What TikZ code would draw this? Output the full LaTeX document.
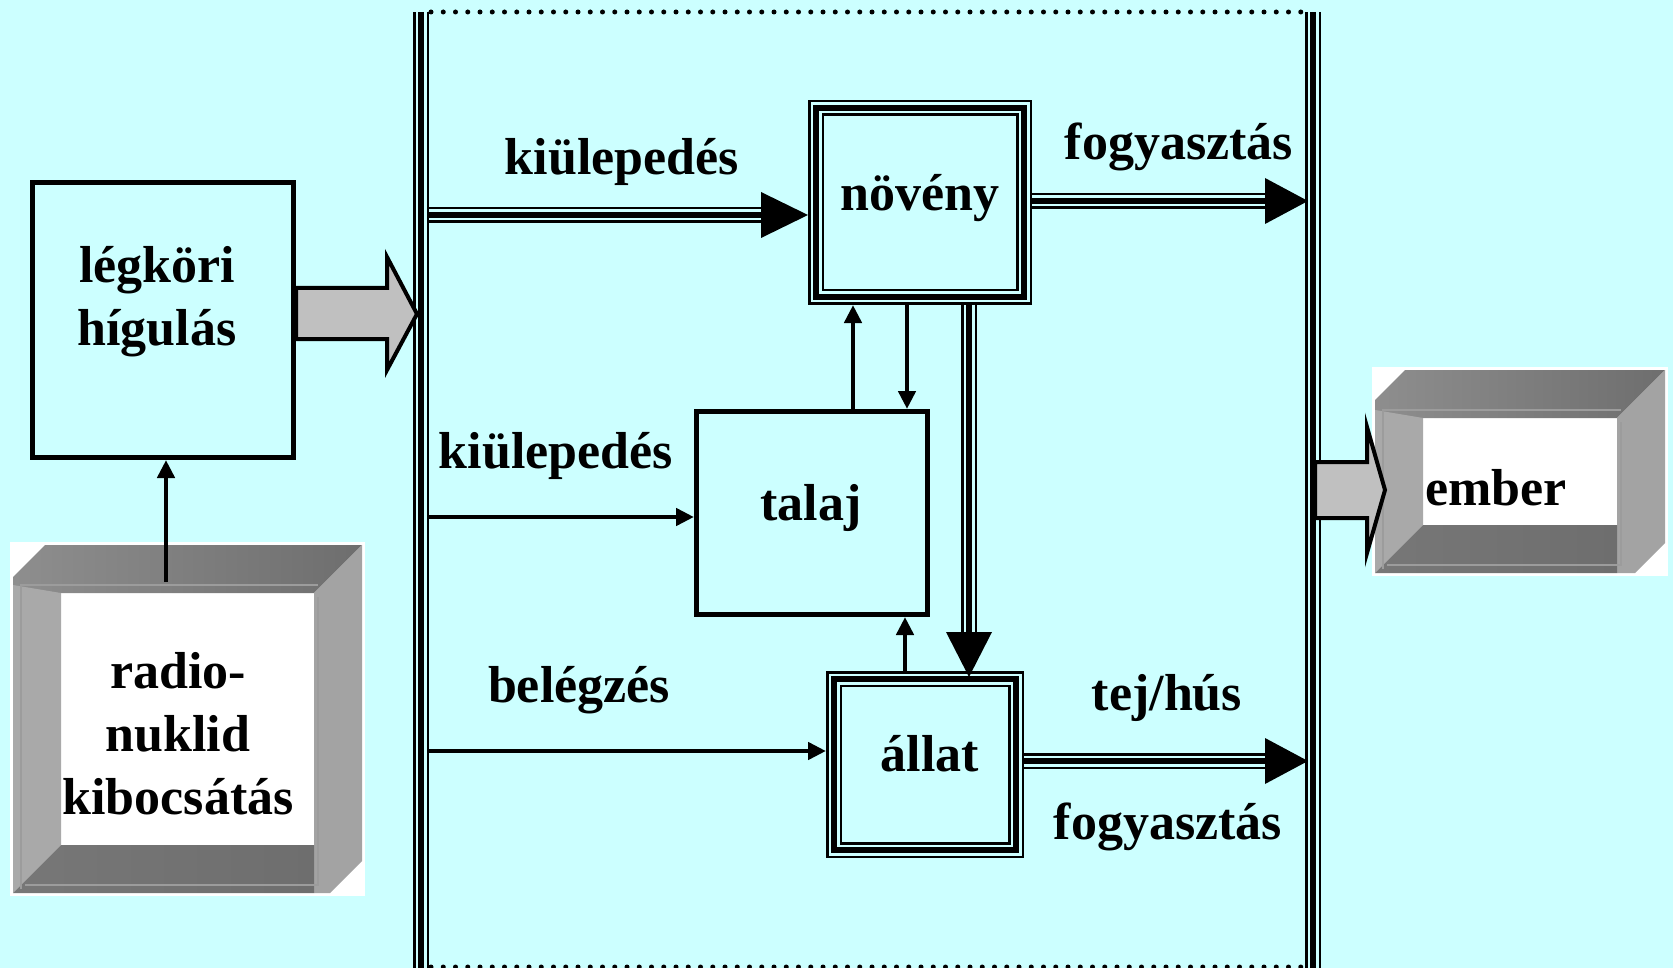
\documentclass[tikz,border=0pt]{standalone}
\usepackage{fontspec}
\setmainfont{Liberation Serif}
\usetikzlibrary{arrows.meta,positioning}

\definecolor{bgc}{HTML}{CCFFFF}
\definecolor{arrowgray}{HTML}{C0C0C0}
\definecolor{facetopl}{HTML}{8E8E8E}
\definecolor{facetopr}{HTML}{6E6E6E}
\definecolor{faceleft}{HTML}{A9A9A9}
\definecolor{faceright}{HTML}{A3A3A3}
\definecolor{facebot}{HTML}{777777}
\definecolor{facemold}{HTML}{9C9C9C}

% bevelled frame: x0, y0, x1, y1, chamfer
\newcommand{\bevelframe}[5]{%
  \fill[white] (#1-3,#2-3) rectangle (#3+3,#4+3);
  \shade[left color=facetopl, right color=facetopr] (#1,#2+#5) -- (#1+#5,#2) -- (#3,#2) -- (#3-48,#2+48) -- (#1,#2+48) -- cycle;
  \fill[faceleft] (#1,#2+40) -- (#1+48,#2+48) -- (#1+48,#4-48) -- (#1,#4) -- cycle;
  \fill[faceright] (#3,#2) -- (#3,#4-#5) -- (#3-#5,#4) -- (#3-48,#4) -- (#3-48,#2+48) -- cycle;
  \shade[left color=facebot, right color=facetopr] (#1,#4) -- (#1+48,#4-48) -- (#3-48,#4-48) -- (#3-48,#4) -- cycle;
  \draw[facemold, line width=2pt] (#1+8,#4-4) -- (#1+8,#2+40) -- (#3-44,#2+40);
  \draw[facemold, line width=2pt] (#3-44,#2+52) -- (#3-44,#4-8) -- (#1+12,#4-8);
}

\tikzset{
  box/.style={draw, line width=5pt, inner sep=0pt},
  trio/.style={draw, line width=6pt,
    preaction={draw=bgc, line width=11pt, preaction={draw=black, line width=16pt}}},
  triobox/.style={trio, inner sep=0pt, outer sep=8pt},
  thinarrow/.style={line width=4.5pt, -{Triangle[length=18pt,width=17pt]}},
  lbl/.style={font=\fontsize{52}{63}\selectfont\bfseries, inner sep=0pt, align=center},
  blockarrow/.style={fill=arrowgray, draw=black, line width=4pt, miter limit=10},
  dotline/.style={line width=5pt, line cap=round, dash pattern=on 0pt off 12.25pt},
}

\begin{document}
\begin{tikzpicture}[x=1pt,y=-1pt]
\useasboundingbox (0,0) rectangle (1673,968);
\fill[bgc] (0,0) rectangle (1673,968);

% food chain compartment
\draw[trio] (421,12) -- (421,968);
\draw[trio] (1313,12) -- (1313,968);
\draw[dotline] (431,12) -- (1304,12);
\draw[dotline] (431,967) -- (1304,967);

% source and receiver
\bevelframe{13}{545}{362}{893}{32}
\bevelframe{1375}{370}{1665}{573}{30}
\node[lbl] (radio) at (178,734) {radio-\\nuklid\\kibocsátás};
\node[lbl, anchor=base west] (ember) at (1425,505) {ember};

% boxes
\node[box, minimum width=261pt, minimum height=275pt] (legkor) at (163,320) {};
\node[lbl] (legkortxt) at (157,302) {légköri\\hígulás};
\node[triobox, minimum width=208pt, minimum height=189pt] (noveny) at (920,202.5) {};
\node[lbl] (novenytxt) at (920,198) {növény};
\node[box, minimum width=231pt, minimum height=203pt] (talaj) at (812,513) {};
\node[lbl] (talajtxt) at (811,508) {talaj};
\node[triobox, minimum width=182pt, minimum height=171pt] (allat) at (925,764.5) {};
\node[lbl] (allattxt) at (930,754) {állat};

% release into the air
\coordinate (rnk) at (166,582);
\draw[thinarrow] (rnk) -- (rnk |- legkor.south);
\filldraw[blockarrow] (legkor.east |- 0,288) -- (387,288) -- (387,257) -- (417,314)
  -- (387,370) -- (387,339) -- (legkor.east |- 0,339) -- cycle;

% deposition onto plants
\coordinate (kia) at (429,215);
\draw[trio] (kia) -- ([xshift=-47pt]kia -| noveny.west);
\fill (kia -| noveny.west) -- ++(-47,-23) -- ++(0,46) -- cycle;
\node[lbl] (kiatxt) at (622,162) {kiülepedés};

% consumption of plants
\coordinate (foa) at (1308,201);
\draw[trio] (noveny.east |- foa) -- ([xshift=-43pt]foa);
\fill (foa) -- ++(-43,-23) -- ++(0,46) -- cycle;
\node[lbl] (foatxt) at (1179,147) {fogyasztás};

% deposition onto soil
\coordinate (kib) at (429,517);
\draw[thinarrow] (kib) -- (kib -| talaj.west);
\node[lbl] (kibtxt) at (556,456) {kiülepedés};

% inhalation
\coordinate (beb) at (429,751);
\draw[thinarrow] (beb) -- (beb -| allat.west);
\node[lbl] (bebtxt) at (579,690) {belégzés};

% soil <-> plant <-> animal
\draw[thinarrow] ([xshift=41pt]talaj.north) -- ([xshift=41pt]talaj.north |- noveny.south);
\draw[thinarrow] ([xshift=-13pt]noveny.south) -- ([xshift=-13pt]noveny.south |- talaj.north);
\draw[thinarrow] ([xshift=-20pt]allat.north) -- ([xshift=-20pt]allat.north |- talaj.south);
\coordinate (nat) at (969,677);
\draw[trio] (nat |- noveny.south) -- ([yshift=45pt]nat);
\fill (nat) -- ++(-23,-45) -- ++(46,0) -- cycle;

% milk and meat
\coordinate (fob) at (1308,761);
\draw[trio] (allat.east |- fob) -- ([xshift=-43pt]fob);
\fill (fob) -- ++(-43,-23) -- ++(0,46) -- cycle;
\node[lbl] (fobtxt) at (1167,698) {tej/hús};
\node[lbl] (fobtxt2) at (1168,827) {fogyasztás};

% intake by man
\filldraw[blockarrow] (1315,462) -- (1367,462) -- (1367,427) -- (1385,490)
  -- (1367,553) -- (1367,518) -- (1315,518) -- cycle;
\end{tikzpicture}
\end{document}
